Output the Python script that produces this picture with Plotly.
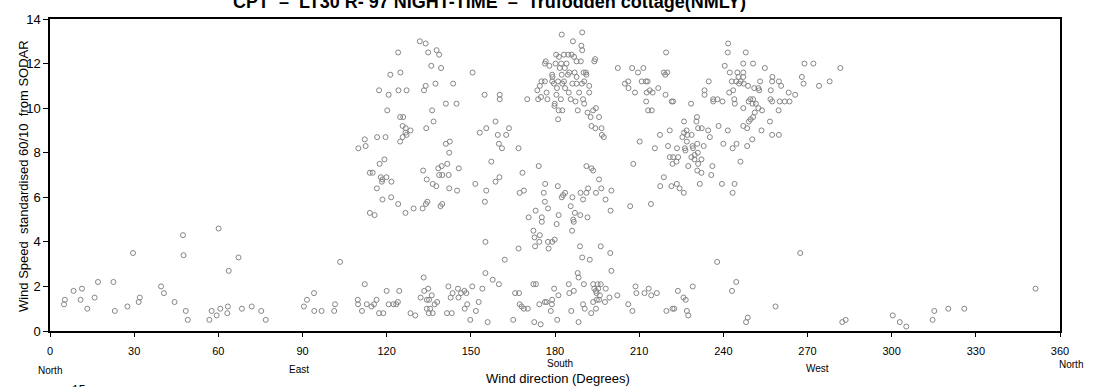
import plotly.graph_objects as go

# (wind direction in degrees, standardised wind speed) pairs, grouped by cluster
calm_north_east = [
    (5.0, 1.2), (5.3, 1.4), (8.4, 1.8), (10.9, 1.4), (11.4, 1.9), (13.3, 1.0), (15.9, 1.5),
    (17.1, 2.2), (22.6, 2.2), (23.1, 0.9), (27.6, 1.1), (29.6, 3.5), (31.6, 1.3), (32.0, 1.5),
    (39.6, 2.0), (40.6, 1.7), (44.4, 1.3), (47.4, 4.3), (47.6, 3.4), (48.4, 0.9), (49.1, 0.5),
    (56.8, 0.5), (57.6, 0.9), (59.4, 0.7), (60.1, 4.6), (60.7, 1.0), (63.2, 0.8), (63.4, 1.1),
    (63.7, 2.7), (67.2, 3.3), (68.4, 1.0), (71.9, 1.1), (75.3, 0.9), (76.9, 0.5), (90.5, 1.1),
    (91.6, 1.4), (94.1, 1.7), (94.2, 0.9), (96.8, 0.9), (101.3, 0.9), (101.6, 1.2), (103.4, 3.1),
]

calm_south_east = [
    (109.7, 1.4), (109.8, 1.2), (111.2, 0.9), (112.2, 2.1), (112.9, 1.2), (114.6, 1.1), (115.5, 1.2),
    (116.4, 1.4), (117.3, 0.8), (118.8, 0.8), (120.0, 1.8), (120.7, 1.2), (122.4, 1.2), (123.4, 1.2),
    (124.0, 1.3), (124.5, 1.8), (128.5, 0.8), (130.2, 0.7), (132.1, 1.5), (133.2, 2.4), (133.4, 1.8),
    (134.3, 1.4), (134.3, 1.0), (134.8, 1.9), (135.1, 1.4), (135.0, 0.8), (135.5, 1.0), (136.1, 1.6),
    (136.4, 0.8), (137.1, 1.2), (138.0, 1.3), (141.5, 0.8), (142.0, 2.0), (143.2, 0.8), (142.8, 1.5),
    (143.5, 1.7), (145.4, 1.9), (145.6, 1.5), (146.5, 1.7), (147.7, 1.8), (148.4, 1.7), (147.8, 1.0),
    (148.7, 1.2), (149.8, 0.5), (150.5, 2.0), (151.8, 0.9), (152.8, 1.3), (154.1, 1.9), (155.2, 2.6),
    (155.2, 4.0), (156.0, 0.4), (157.8, 2.3), (160.0, 2.1), (162.1, 3.2), (165.1, 0.5), (165.8, 1.7),
    (167.2, 1.7), (167.0, 3.7), (167.4, 1.2), (168.1, 1.1), (168.9, 1.0), (170.3, 1.0), (172.3, 2.1),
    (173.2, 2.1), (172.3, 4.5), (172.7, 4.2), (172.9, 3.8), (174.4, 4.0), (174.6, 4.3), (175.3, 4.9),
    (172.6, 0.4), (174.4, 1.2), (174.9, 0.3), (176.4, 1.3), (177.0, 1.3), (177.5, 4.0), (177.7, 3.7),
    (179.0, 4.0), (179.9, 4.1), (180.6, 4.8), (178.5, 0.9), (179.0, 1.4), (179.7, 1.9), (180.8, 0.5),
    (181.2, 1.6),
]

strong_south_east = [
    (131.8, 13.0), (133.9, 12.9), (124.1, 12.5), (134.8, 12.5), (137.8, 12.6), (138.7, 12.4),
    (135.9, 11.9), (139.4, 11.8), (121.3, 11.5), (124.9, 11.6), (150.6, 11.6), (117.3, 10.8),
    (120.7, 10.6), (124.2, 10.8), (127.1, 10.8), (133.3, 10.8), (133.9, 11.0), (137.4, 11.1),
    (143.7, 11.1), (141.1, 10.2), (144.9, 10.2), (136.2, 9.9), (120.2, 9.9), (154.9, 10.6),
    (160.3, 10.6), (160.3, 10.4), (124.8, 9.6), (125.9, 9.6), (125.7, 9.2), (126.8, 9.1),
    (128.5, 9.0), (126.7, 8.9), (127.1, 8.8), (125.7, 8.7), (124.8, 8.5), (134.1, 9.1),
    (136.7, 9.4), (116.6, 8.7), (119.6, 8.7), (112.2, 8.6), (112.5, 8.3), (109.9, 8.2),
    (141.1, 8.4), (142.5, 8.5), (142.3, 8.0), (153.2, 8.9), (155.5, 9.1), (158.8, 9.4),
    (163.6, 9.1), (159.6, 8.8), (162.6, 8.8), (160.0, 8.4), (161.1, 8.2), (167.0, 8.2),
    (119.2, 7.7), (117.5, 7.5), (114.0, 7.1), (115.0, 7.1), (117.9, 6.9), (119.9, 6.9),
    (118.5, 6.8), (121.7, 6.7), (118.3, 6.7), (116.5, 6.4), (118.5, 5.9), (121.6, 6.0),
    (124.1, 5.7), (114.0, 5.3), (115.7, 5.2), (126.7, 5.3), (129.6, 5.5), (132.8, 5.5),
    (134.0, 5.7), (134.5, 5.8), (139.2, 5.6), (139.8, 5.7), (133.0, 7.2), (138.4, 7.3),
    (139.6, 7.4), (141.6, 7.5), (145.7, 7.3), (138.7, 7.0), (139.8, 7.0), (142.1, 7.0),
    (134.3, 6.8), (136.4, 6.6), (137.7, 6.5), (142.3, 6.4), (145.1, 6.3), (151.6, 6.6),
    (157.3, 7.6), (158.8, 6.7), (160.2, 6.9), (155.5, 6.3), (155.0, 5.8), (174.2, 7.4),
    (168.4, 7.1), (167.4, 6.2), (168.9, 6.3), (170.6, 5.1), (176.5, 6.6), (176.0, 6.2),
    (176.4, 5.8), (177.5, 5.5), (173.1, 5.4), (175.3, 5.1), (181.3, 5.2), (181.0, 6.5),
    (179.1, 11.4), (174.6, 11.0), (173.7, 10.8), (170.1, 10.4), (174.0, 10.4),
]

strong_south = [
    (189.7, 13.4), (182.4, 13.3), (186.4, 13.0), (189.4, 12.8), (189.7, 12.6), (180.4, 12.4),
    (183.2, 12.4), (184.7, 12.4), (185.9, 12.4), (186.8, 12.3), (181.4, 12.3), (187.7, 12.1),
    (189.2, 12.1), (194.3, 12.2), (194.0, 12.1), (176.7, 12.1), (176.4, 12.0), (178.0, 11.9),
    (180.2, 12.0), (182.2, 12.0), (184.1, 12.0), (181.7, 11.8), (183.5, 11.8), (185.1, 11.6),
    (187.0, 11.6), (190.2, 11.6), (191.0, 11.6), (179.0, 11.5), (182.4, 11.5), (184.6, 11.5),
    (191.2, 11.5), (175.2, 11.2), (176.4, 11.2), (179.0, 11.2), (181.1, 11.2), (183.2, 11.2),
    (187.7, 11.4), (190.4, 11.2), (179.6, 11.1), (182.6, 11.1), (186.2, 11.1), (187.7, 11.1),
    (189.6, 11.1), (192.2, 11.0), (180.7, 10.9), (183.6, 10.9), (184.9, 10.7), (188.6, 10.7),
    (192.2, 10.7), (177.0, 10.7), (175.0, 10.5), (177.3, 10.4), (180.5, 10.6), (182.1, 10.4),
    (185.6, 10.4), (187.3, 10.3), (190.0, 10.4), (190.4, 10.2), (179.9, 10.2), (179.8, 10.1),
    (182.6, 9.9), (181.3, 9.9), (188.1, 9.9), (181.1, 9.5), (191.6, 9.8), (193.6, 9.9),
    (194.6, 10.0), (192.7, 9.6), (195.7, 9.6), (193.0, 9.2), (194.4, 9.1), (196.6, 9.1),
    (196.7, 8.8), (197.4, 8.7),
]

mid_south = [
    (191.2, 7.4), (193.0, 7.3), (193.6, 7.2), (195.7, 6.8), (183.6, 6.2), (182.9, 6.1),
    (182.4, 6.0), (186.2, 6.0), (189.1, 6.2), (191.2, 6.2), (191.8, 6.4), (194.6, 6.2),
    (196.5, 6.4), (200.1, 6.3), (190.0, 5.9), (198.0, 5.9), (185.6, 5.6), (199.8, 5.4),
    (187.1, 5.3), (189.0, 5.2), (191.6, 5.1), (186.5, 5.0), (186.7, 4.9), (186.1, 4.5),
    (188.9, 3.8), (196.3, 3.8), (199.7, 3.5), (189.7, 3.3), (192.4, 3.2), (200.1, 2.7),
    (188.1, 2.6), (188.4, 2.4),
]

calm_south_west = [
    (184.9, 2.1), (190.3, 2.1), (193.6, 2.1), (195.2, 2.1), (196.3, 2.1), (194.0, 1.9),
    (195.4, 1.9), (198.1, 1.9), (185.1, 1.7), (186.7, 1.8), (194.6, 1.8), (194.8, 1.7),
    (196.0, 1.6), (199.4, 1.5), (202.2, 1.6), (195.7, 1.4), (194.9, 1.4), (193.6, 1.3),
    (197.8, 1.3), (190.0, 1.2), (178.9, 1.2), (185.8, 0.9), (190.6, 1.0), (194.6, 1.0),
    (192.9, 0.8), (188.4, 0.4), (206.1, 1.2), (207.6, 0.9), (208.7, 2.0), (209.0, 1.7),
    (211.9, 1.7), (213.4, 1.9), (214.3, 1.6), (216.3, 1.7), (219.7, 0.9), (221.9, 1.0),
    (222.5, 1.0), (223.8, 1.8), (225.8, 1.5), (226.6, 1.4), (227.0, 0.9), (227.5, 0.7),
    (229.1, 2.0), (237.8, 3.1), (244.6, 2.2), (243.1, 1.8), (248.7, 0.6), (248.1, 0.4),
    (258.6, 1.1), (267.4, 3.5),
]

strong_south_west = [
    (202.4, 11.8), (207.5, 11.8), (209.6, 11.6), (211.5, 11.8), (219.6, 12.5), (218.8, 11.6),
    (220.0, 11.6), (219.3, 11.5), (204.9, 11.1), (206.1, 11.2), (206.2, 10.9), (210.9, 11.2),
    (212.4, 11.2), (213.0, 11.2), (208.5, 10.7), (212.7, 10.7), (213.8, 10.8), (214.8, 10.7),
    (216.8, 10.9), (212.5, 10.3), (213.2, 9.9), (214.5, 9.9), (219.4, 10.6), (221.6, 10.3),
    (222.1, 10.3), (228.5, 10.2), (207.9, 7.5), (206.8, 5.6), (214.2, 5.7),
]

mid_south_west = [
    (230.6, 9.6), (226.0, 9.4), (230.4, 9.4), (231.0, 9.1), (232.3, 9.1), (234.6, 9.0),
    (238.3, 9.2), (241.6, 9.0), (220.9, 9.0), (217.4, 8.8), (226.9, 9.0), (226.0, 8.9),
    (225.4, 8.7), (227.2, 8.8), (228.7, 8.8), (235.2, 8.7), (227.0, 8.5), (210.2, 8.5),
    (215.6, 8.2), (220.3, 8.3), (223.5, 8.2), (226.3, 8.2), (229.0, 8.3), (230.7, 8.4),
    (233.0, 8.3), (226.5, 8.1), (229.2, 8.2), (230.9, 8.0), (240.0, 8.4), (244.7, 8.4),
    (243.3, 8.2), (248.5, 8.3), (250.3, 8.6), (220.9, 7.8), (222.1, 7.8), (223.9, 7.8),
    (221.9, 7.5), (223.3, 7.6), (228.6, 7.8), (229.8, 7.9), (229.7, 7.7), (232.2, 7.7),
    (231.0, 7.5), (227.5, 7.4), (230.7, 7.2), (232.2, 7.1), (236.1, 7.4), (235.7, 7.0),
    (231.6, 6.6), (246.1, 7.6), (239.5, 6.6), (244.0, 6.6), (243.3, 6.2), (218.8, 6.9),
    (217.5, 6.5), (221.5, 6.5), (223.4, 6.6), (224.4, 6.4), (225.9, 6.2),
]

strong_west = [
    (241.7, 12.9), (241.6, 12.5), (248.0, 12.5), (240.5, 11.9), (247.1, 12.0), (250.6, 12.0),
    (254.8, 11.8), (242.3, 11.6), (245.0, 11.6), (247.1, 11.6), (245.4, 11.4), (247.1, 11.4),
    (244.6, 11.2), (246.2, 11.2), (243.0, 11.2), (245.6, 11.1), (247.3, 11.1), (248.8, 11.0),
    (253.1, 11.2), (251.0, 10.9), (252.5, 10.9), (257.5, 11.4), (257.4, 11.2), (259.8, 11.2),
    (260.6, 11.0), (234.8, 11.2), (233.3, 10.8), (233.3, 10.6), (243.5, 10.8), (242.1, 10.7),
    (243.9, 10.4), (236.4, 10.4), (236.4, 10.3), (237.9, 10.4), (239.7, 10.3), (252.8, 10.8),
    (249.6, 10.4), (250.6, 10.4), (256.9, 10.8), (256.8, 10.4), (257.4, 10.3), (260.1, 10.3),
    (261.9, 10.3), (263.6, 10.3), (263.3, 10.7), (265.6, 10.6), (268.0, 11.4), (268.6, 11.1),
    (268.9, 12.0), (272.1, 12.0), (274.1, 11.0), (277.9, 11.2), (281.7, 11.8), (244.1, 10.2),
    (247.1, 10.0), (249.0, 10.3), (250.4, 10.2), (251.6, 10.2), (252.5, 10.0), (253.8, 9.9),
    (251.2, 9.8), (250.6, 9.6), (249.7, 9.5), (249.1, 9.4), (247.1, 9.2), (248.5, 9.1),
    (253.6, 9.0), (256.6, 9.4), (259.7, 9.9), (257.4, 8.8), (259.8, 8.8),
]

calm_north_west = [
    (282.4, 0.4), (283.6, 0.5), (300.4, 0.7), (302.9, 0.4), (305.2, 0.2), (314.6, 0.5),
    (315.2, 0.9), (320.2, 1.0), (325.9, 1.0), (351.3, 1.9),
]

x_ticks = [0, 30, 60, 90, 120, 150, 180, 210, 240, 270, 300, 330, 360]
y_ticks = [0, 2, 4, 6, 8, 10, 12, 14]
compass = [(0, "North"), (90, "East"), (180, "South"), (270, "West"), (360, "North")]
compass_yoff = [-39, -38, -32, -37, -33]
compass_xoff = [0, -4, 5, 10, 11]

groups = [calm_north_east, calm_south_east, strong_south_east, strong_south, mid_south,
          calm_south_west, strong_south_west, mid_south_west, strong_west, calm_north_west]
directions = [p[0] for g in groups for p in g]
speeds = [p[1] for g in groups for p in g]

fig = go.Figure()
fig.add_trace(go.Scatter(
    x=directions, y=speeds, mode="markers",
    marker=dict(symbol="circle-open", size=5, color="#858585", line=dict(width=1, color="#858585")),
    showlegend=False, hoverinfo="x+y",
))

font = "Liberation Sans, Arial, sans-serif"
fig.update_layout(
    width=1096, height=387,
    margin=dict(l=50, r=36, t=16, b=56),
    paper_bgcolor="white", plot_bgcolor="white",
    font=dict(family=font, color="black"),
    xaxis=dict(range=[0, 360], tickvals=x_ticks, ticks="outside", ticklen=4, tickcolor="black",
               showline=True, linecolor="black", linewidth=1.5, mirror=True, showgrid=False,
               zeroline=False, tickfont=dict(size=11, family=font), ticklabelstandoff=5),
    yaxis=dict(range=[0, 14], tickvals=y_ticks, ticks="outside", ticklen=5, tickcolor="black",
               showline=True, linecolor="black", linewidth=1.5, mirror=True, showgrid=False,
               zeroline=False, tickfont=dict(size=13, family=font)),
)

for (deg, name), yo, xo in zip(compass, compass_yoff, compass_xoff):
    fig.add_annotation(x=deg, y=0, xref="x", yref="y", yshift=yo, xshift=xo, text=name,
                       showarrow=False, font=dict(size=10, family=font, color="black"))

fig.add_annotation(x=0.5, y=0, xref="paper", yref="paper", yanchor="top", yshift=-38, xshift=3,
                   text="Wind direction (Degrees)", showarrow=False,
                   font=dict(size=13, family=font, color="black"))
fig.add_annotation(x=0, y=0.495, xref="paper", yref="paper", xshift=-36,
                   text="Wind Speed  standardised 60/10  from SODAR", textangle=-90, showarrow=False,
                   font=dict(size=13, family=font, color="black"))
fig.add_annotation(x=0.435, y=1, xref="paper", yref="paper", yanchor="bottom", yshift=5,
                   text="<b>CPT  \u2013  LT30 R- 97 NIGHT-TIME  \u2013  Trufodden cottage(NMLY)</b>",
                   showarrow=False, font=dict(size=18, family=font, color="black"))
fig.add_annotation(x=0.02, y=0, xref="paper", yref="paper", yanchor="top", yshift=-50, text="15",
                   showarrow=False, font=dict(size=12, family=font, color="black"))

fig.write_html("out.html")
